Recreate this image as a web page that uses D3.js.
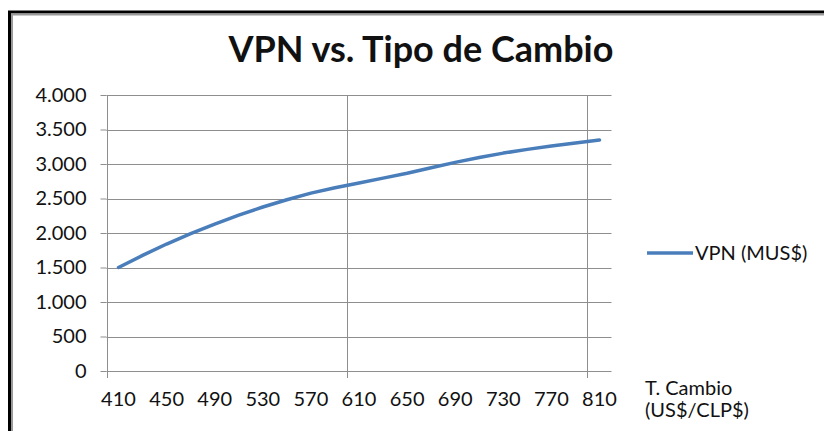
<!DOCTYPE html>
<html>
<head>
<meta charset="utf-8">
<script src="https://cdn.jsdelivr.net/npm/d3@7"></script>
<style>
  body { margin: 0; background: #fff; }
  svg text { font-family: Lato, "Open Sans", sans-serif; fill: #111; }
</style>
</head>
<body>
<svg width="824" height="431"></svg>
<script>
// tipo de cambio (US$/CLP$), cada 20
var tipoCambio = ['410', '430', '450', '470', '490', '510', '530', '550', '570', '590',
  '610', '630', '650', '670', '690', '710', '730', '750', '770', '790', '810'];
// VPN en MUS$
var vpn = [1500, 1675, 1840, 1990, 2130, 2258, 2377, 2482, 2578, 2655,
  2725, 2795, 2866, 2946, 3024, 3094, 3158, 3212, 3260, 3305, 3348];
var xLabels = ['410', '450', '490', '530', '570', '610', '650', '690', '730', '770', '810'];
var yTicks = [0, 500, 1000, 1500, 2000, 2500, 3000, 3500, 4000];
var serieName = 'VPN (MUS$)';
var titulo = 'VPN vs. Tipo de Cambio';

var svg = d3.select('svg'),
  width = +svg.attr('width'),
  height = +svg.attr('height');

// ojo: "top" choca con window.top
var pLeft = 106.5, pRight = 611.5, pTop = 95, pBottom = 371;
var grid = '#8e8e8e';
var blue = '#4a7ebb';

var es = d3.formatLocale({ decimal: ',', thousands: '.', grouping: [3], currency: ['$', ''] });
var fmt = es.format(',');

var x = d3.scaleBand().domain(tipoCambio).range([pLeft, pRight]).padding(0);
var y = d3.scaleLinear().domain([0, 4000]).range([pBottom, pTop]);

// marco
svg.append('rect')
  .attr('x', 9.5).attr('y', 12).attr('width', 900).attr('height', 500)
  .attr('fill', 'none').attr('stroke', '#000').attr('stroke-width', 3);
svg.append('rect')
  .attr('x', 12).attr('y', 14.5).attr('width', 900).attr('height', 500)
  .attr('fill', 'none').attr('stroke', '#9a9a9a').attr('stroke-width', 2);

svg.append('text')
  .attr('x', 421).attr('y', 62)
  .attr('text-anchor', 'middle')
  .style('font-weight', 'bold').style('font-size', '36px')
  .text(titulo);

// eje y
var yAxis = svg.append('g')
  .attr('transform', 'translate(' + pLeft + ',0)')
  .call(d3.axisLeft(y).tickValues(yTicks).tickFormat(fmt).tickSize(6).tickPadding(14));
yAxis.select('.domain').remove();
yAxis.selectAll('line').attr('stroke', grid);
yAxis.selectAll('text').style('font-size', '20px').attr('fill', '#111');

// grilla horizontal
svg.append('g').selectAll('line')
  .data(yTicks)
  .enter()
  .append('line')
  .attr('x1', pLeft).attr('x2', pRight)
  .attr('y1', function (d) { return Math.round(y(d)) + 0.5; })
  .attr('y2', function (d) { return Math.round(y(d)) + 0.5; })
  .attr('stroke', grid);

// grilla vertical cada 10 categorias
var vIdx = [0, 10, 20];
svg.append('g').selectAll('line')
  .data(vIdx)
  .enter()
  .append('line')
  .attr('x1', function (i) { return Math.round(x(tipoCambio[i])) + 0.5; })
  .attr('x2', function (i) { return Math.round(x(tipoCambio[i])) + 0.5; })
  .attr('y1', pTop).attr('y2', pBottom + 7)
  .attr('stroke', grid);

// eje x
var xAxis = svg.append('g')
  .attr('transform', 'translate(0,' + pBottom + ')')
  .call(d3.axisBottom(x).tickValues(xLabels).tickSize(0).tickPadding(21));
xAxis.select('.domain').remove();
xAxis.selectAll('text').style('font-size', '20px').attr('fill', '#111');

// linea
var line = d3.line()
  .x(function (d, i) { return x(tipoCambio[i]) + x.bandwidth() / 2; })
  .y(function (d) { return y(d); });

svg.append('path')
  .datum(vpn)
  .attr('d', line)
  .attr('fill', 'none')
  .attr('stroke', blue)
  .attr('stroke-width', 3.5)
  .attr('stroke-linecap', 'round')
  .attr('stroke-linejoin', 'round');

// leyenda
svg.append('line')
  .attr('x1', 647).attr('x2', 693).attr('y1', 253).attr('y2', 253)
  .attr('stroke', blue).attr('stroke-width', 3.5);
svg.append('text')
  .attr('x', 695).attr('y', 260)
  .style('font-size', '20px')
  .text(serieName);

// titulo eje x
var xt = svg.append('text')
  .style('font-size', '20px');
xt.append('tspan').attr('x', 645).attr('y', 395).text('T. Cambio');
xt.append('tspan').attr('x', 645).attr('y', 417).text('(US$/CLP$)');
</script>
</body>
</html>
